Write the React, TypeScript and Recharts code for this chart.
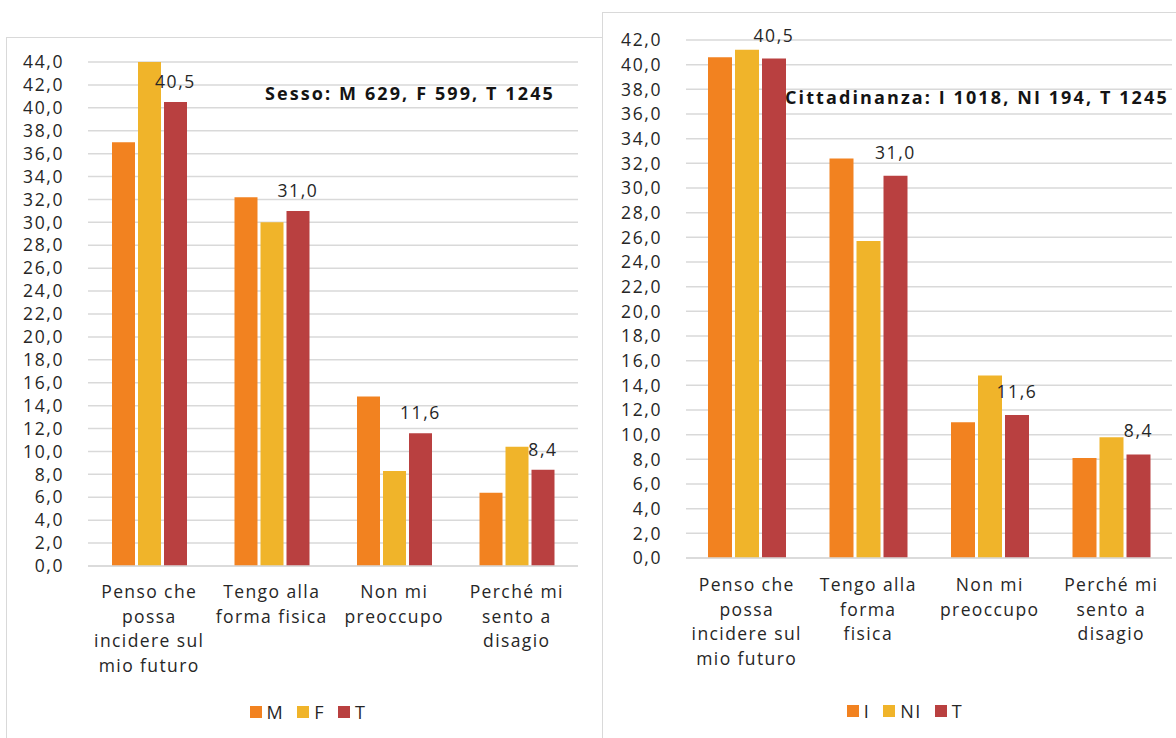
import React from 'react';
import { Bar, BarChart, CartesianGrid, LabelList, Legend, XAxis, YAxis } from 'recharts';

// categories (line breaks as in the original labels)
const CATEGORIES_SESSO = [
  'Penso che\npossa\nincidere sul\nmio futuro',
  'Tengo alla\nforma fisica',
  'Non mi\npreoccupo',
  'Perché mi\nsento a\ndisagio',
];
const CATEGORIES_CITT = [
  'Penso che\npossa\nincidere sul\nmio futuro',
  'Tengo alla\nforma\nfisica',
  'Non mi\npreoccupo',
  'Perché mi\nsento a\ndisagio',
];

// Sesso
const M_VALUES = [37.0, 32.2, 14.8, 6.4];
const F_VALUES = [44.0, 30.0, 8.3, 10.4];
const T_VALUES = [40.5, 31.0, 11.6, 8.4];

// Cittadinanza
const I_VALUES = [40.6, 32.4, 11.0, 8.1];
const NI_VALUES = [41.2, 25.7, 14.8, 9.8];
const T2_VALUES = [40.5, 31.0, 11.6, 8.4];

const TICKS_SESSO = [0, 2, 4, 6, 8, 10, 12, 14, 16, 18, 20, 22, 24, 26, 28, 30, 32, 34, 36, 38, 40, 42, 44];
const TICKS_CITT = [0, 2, 4, 6, 8, 10, 12, 14, 16, 18, 20, 22, 24, 26, 28, 30, 32, 34, 36, 38, 40, 42];

const TITLE_SESSO = 'Sesso: M 629, F 599, T 1245';
const TITLE_CITT = 'Cittadinanza: I 1018, NI 194, T 1245';

const ORANGE = '#F28220';
const YELLOW = '#F0B42A';
const RED = '#B94040';
const GRID = '#D9D9D9';
const TEXT = '#262626';
const FONT = '"Open Sans", sans-serif';

const fmt = (v: number) => v.toFixed(1).replace('.', ',');

const sessoData = CATEGORIES_SESSO.map((c, i) => ({
  cat: c,
  M: M_VALUES[i],
  F: F_VALUES[i],
  T: T_VALUES[i],
}));

const cittData = CATEGORIES_CITT.map((c, i) => ({
  cat: c,
  I: I_VALUES[i],
  NI: NI_VALUES[i],
  T: T2_VALUES[i],
}));

function CategoryTick(props: any) {
  const { x, y, payload, firstDy } = props;
  const lines = String(payload.value).split('\n');
  return (
    <text
      x={x}
      y={y}
      textAnchor="middle"
      fill={TEXT}
      fontSize={17.5}
      fontFamily={FONT}
      style={{ letterSpacing: 1.4 }}
    >
      {lines.map((l, i) => (
        <tspan key={i} x={x} dy={i === 0 ? firstDy : 24.6}>
          {l}
        </tspan>
      ))}
    </text>
  );
}

function legendContent(items: { label: string; color: string }[]) {
  return () => (
    <div
      style={{
        display: 'flex',
        justifyContent: 'center',
        alignItems: 'center',
        height: 24,
        gap: 13,
        fontFamily: FONT,
        fontSize: 18,
        color: TEXT,
        letterSpacing: 1.5,
      }}
    >
      {items.map((it) => (
        <div key={it.label} style={{ display: 'flex', alignItems: 'center' }}>
          <span style={{ width: 12, height: 12, background: it.color, marginRight: 5, display: 'inline-block' }} />
          <span>{it.label}</span>
        </div>
      ))}
    </div>
  );
}

const tickStyle = { fill: TEXT, fontSize: 17.5, fontFamily: FONT, letterSpacing: 1.6 };
const labelStyle = { fill: TEXT, fontSize: 17.5, fontFamily: FONT, letterSpacing: 1.6 };
const titleStyle: React.CSSProperties = {
  position: 'absolute',
  fontFamily: FONT,
  fontWeight: 700,
  fontSize: 18,
  color: '#141414',
  whiteSpace: 'nowrap',
  letterSpacing: 2.1,
};

export default function App() {
  return (
    <div
      style={{
        position: 'fixed',
        left: 0,
        top: 0,
        width: 1176,
        height: 738,
        background: '#fff',
        overflow: 'hidden',
      }}
    >
      <div
        style={{
          position: 'absolute',
          left: 6,
          top: 37,
          width: 600,
          height: 720,
          border: `1.5px solid ${GRID}`,
        }}
      />
      <div
        style={{
          position: 'absolute',
          left: 602,
          top: 12,
          width: 620,
          height: 740,
          border: `1.5px solid ${GRID}`,
          background: '#fff',
        }}
      />

      <div style={{ position: 'absolute', left: 6, top: 37 }}>
        <BarChart
          width={596}
          height={701}
          data={sessoData}
          margin={{ top: 25, right: 24, left: 12, bottom: 14 }}
          barSize={23}
          barGap={3}
        >
          <CartesianGrid horizontal vertical={false} stroke={GRID} strokeWidth={1.5} />
          <XAxis
            dataKey="cat"
            height={134}
            interval={0}
            tickLine={false}
            tickSize={0}
            tickMargin={0}
            axisLine={{ stroke: GRID, strokeWidth: 1.5 }}
            tick={<CategoryTick firstDy={32} />}
          />
          <YAxis
            width={70}
            domain={[0, 44]}
            ticks={TICKS_SESSO}
            interval={0}
            tickFormatter={fmt}
            tickLine={false}
            axisLine={false}
            tickMargin={18}
            tick={tickStyle}
          />
          <Legend
            verticalAlign="bottom"
            height={24}
            wrapperStyle={{ left: 0, width: 604 }}
            content={legendContent([
              { label: 'M', color: ORANGE },
              { label: 'F', color: YELLOW },
              { label: 'T', color: RED },
            ])}
          />
          <Bar dataKey="M" fill={ORANGE} isAnimationActive={false} />
          <Bar dataKey="F" fill={YELLOW} isAnimationActive={false} />
          <Bar dataKey="T" fill={RED} isAnimationActive={false}>
            <LabelList
              dataKey="T"
              position="top"
              offset={14}
              formatter={(v: any) => fmt(Number(v))}
              style={labelStyle}
            />
          </Bar>
        </BarChart>
        <div style={{ ...titleStyle, left: 259, top: 44 }}>{TITLE_SESSO}</div>
      </div>

      <div style={{ position: 'absolute', left: 602, top: 12 }}>
        <BarChart
          width={606}
          height={726}
          data={cittData}
          margin={{ top: 28, right: 36, left: 14, bottom: 15 }}
          barSize={24}
          barGap={3}
        >
          <CartesianGrid horizontal vertical={false} stroke={GRID} strokeWidth={1.5} />
          <XAxis
            dataKey="cat"
            height={141}
            interval={0}
            tickLine={false}
            tickSize={0}
            tickMargin={0}
            axisLine={{ stroke: GRID, strokeWidth: 1.5 }}
            tick={<CategoryTick firstDy={33} />}
          />
          <YAxis
            width={70}
            domain={[0, 42]}
            ticks={TICKS_CITT}
            interval={0}
            tickFormatter={fmt}
            tickLine={false}
            axisLine={false}
            tickMargin={18}
            tick={tickStyle}
          />
          <Legend
            verticalAlign="bottom"
            height={24}
            wrapperStyle={{ left: 0, width: 606 }}
            content={legendContent([
              { label: 'I', color: ORANGE },
              { label: 'NI', color: YELLOW },
              { label: 'T', color: RED },
            ])}
          />
          <Bar dataKey="I" fill={ORANGE} isAnimationActive={false} />
          <Bar dataKey="NI" fill={YELLOW} isAnimationActive={false} />
          <Bar dataKey="T" fill={RED} isAnimationActive={false}>
            <LabelList
              dataKey="T"
              position="top"
              offset={17}
              formatter={(v: any) => fmt(Number(v))}
              style={labelStyle}
            />
          </Bar>
        </BarChart>
        <div style={{ ...titleStyle, left: 183, top: 73 }}>{TITLE_CITT}</div>
      </div>
    </div>
  );
}
